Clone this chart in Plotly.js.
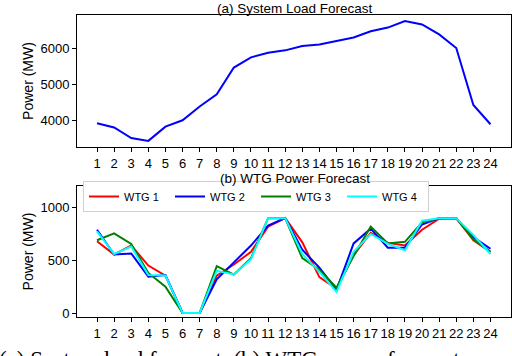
<!DOCTYPE html>
<html>
<head>
<meta charset="utf-8">
<script src="https://cdn.plot.ly/plotly-3.0.1.min.js"></script>
<style>html,body{margin:0;padding:0;background:#fff;}#chart{width:512px;height:356px;}</style>
</head>
<body>
<div id="chart"></div>
<script>
const hours = [1,2,3,4,5,6,7,8,9,10,11,12,13,14,15,16,17,18,19,20,21,22,23,24];
const hourLabels = hours.map(String);
const loadMW = [3920,3800,3510,3430,3825,4000,4380,4720,5460,5740,5870,5935,6055,6100,6195,6290,6465,6565,6745,6650,6375,6000,4425,3890];
const wtg1 = [680,555,640,450,355,0,0,355,460,580,820,900,670,340,230,550,760,665,640,790,895,900,690,580];
const wtg2 = [790,555,565,345,360,0,0,320,480,640,830,900,600,430,220,660,800,620,620,840,900,900,720,610];
const wtg3 = [690,755,655,380,250,0,0,445,365,520,900,900,520,410,240,540,820,660,675,860,900,900,700,580];
const wtg4 = [775,560,630,360,355,0,0,400,365,510,900,900,560,390,200,580,750,655,595,875,900,900,740,560];
const wtgNames = ['WTG 1','WTG 2','WTG 3','WTG 4'];
const wtgColors = ['#ff0000','#0000ff','#008000','#00ffff'];
const wtgSeries = [wtg1,wtg2,wtg3,wtg4];

const font = 'Liberation Sans, Arial, sans-serif';
const traces = [{
  x: hours, y: loadMW, type: 'scatter', mode: 'lines',
  line: {color: '#0000ff', width: 2}, xaxis: 'x', yaxis: 'y', showlegend: false
}];
wtgSeries.forEach((s, i) => traces.push({
  x: hours, y: s, type: 'scatter', mode: 'lines', name: wtgNames[i],
  line: {color: wtgColors[i], width: 2}, xaxis: 'x2', yaxis: 'y2'
}));

const axBase = {
  showline: true, mirror: true, linecolor: '#000', linewidth: 1,
  ticks: 'outside', ticklen: 4, tickcolor: '#000', showgrid: false, zeroline: false,
  tickfont: {family: font, size: 13, color: '#000'}
};
const W = 512, H = 356;
const ytitle = {text: 'Power (MW)', font: {family: font, size: 14, color: '#000'}, standoff: 3};
const layout = {
  width: W, height: H,
  margin: {l: 0, r: 0, t: 0, b: 0},
  paper_bgcolor: '#fff', plot_bgcolor: '#fff',
  font: {family: font, color: '#000'},
  xaxis: Object.assign({}, axBase, {domain: [77/W, 511/W], range: [-0.17, 25.2], tickvals: hours, ticktext: hourLabels, anchor: 'y'}),
  yaxis: Object.assign({}, axBase, {domain: [1-147/H, 1-15/H], range: [3261, 6913], tickvals: [4000,5000,6000], anchor: 'x', title: ytitle}),
  xaxis2: Object.assign({}, axBase, {domain: [77/W, 511/W], range: [-0.17, 25.2], tickvals: hours, ticktext: hourLabels, anchor: 'y2'}),
  yaxis2: Object.assign({}, axBase, {domain: [1-317/H, 1-186/H], range: [-38, 1205], tickvals: [0,500,1000], anchor: 'x2', title: ytitle}),
  legend: {
    orientation: 'h', x: 83/W, y: 1-212/H, xanchor: 'left', yanchor: 'bottom',
    bgcolor: '#fff', bordercolor: '#d0d0d0', borderwidth: 1,
    font: {family: font, size: 11, color: '#000'}, entrywidth: 41, entrywidthmode: 'pixels', tracegroupgap: 0
  },
  annotations: [
    {text: '(a) System Load Forecast', xref: 'paper', yref: 'paper', x: 0.577, y: 1, xanchor: 'center', yanchor: 'top', borderpad: 0, showarrow: false,
     font: {family: font, size: 13.5, color: '#000'}},
    {text: '(b) WTG Power Forecast', xref: 'paper', yref: 'paper', x: 0.577, y: 1-170/H, xanchor: 'center', yanchor: 'top', borderpad: 0, showarrow: false,
     font: {family: font, size: 13.5, color: '#000'}},
    {text: '(a) System load forecast. (b) WTG power forecast.', xref: 'paper', yref: 'paper', x: -3/W, y: 1-345/H, xanchor: 'left', yanchor: 'top', showarrow: false,
     font: {family: 'Liberation Serif, Times New Roman, serif', size: 23, color: '#000'}}
  ]
};
Plotly.newPlot('chart', traces, layout, {staticPlot: true, displayModeBar: false});
</script>
</body>
</html>
